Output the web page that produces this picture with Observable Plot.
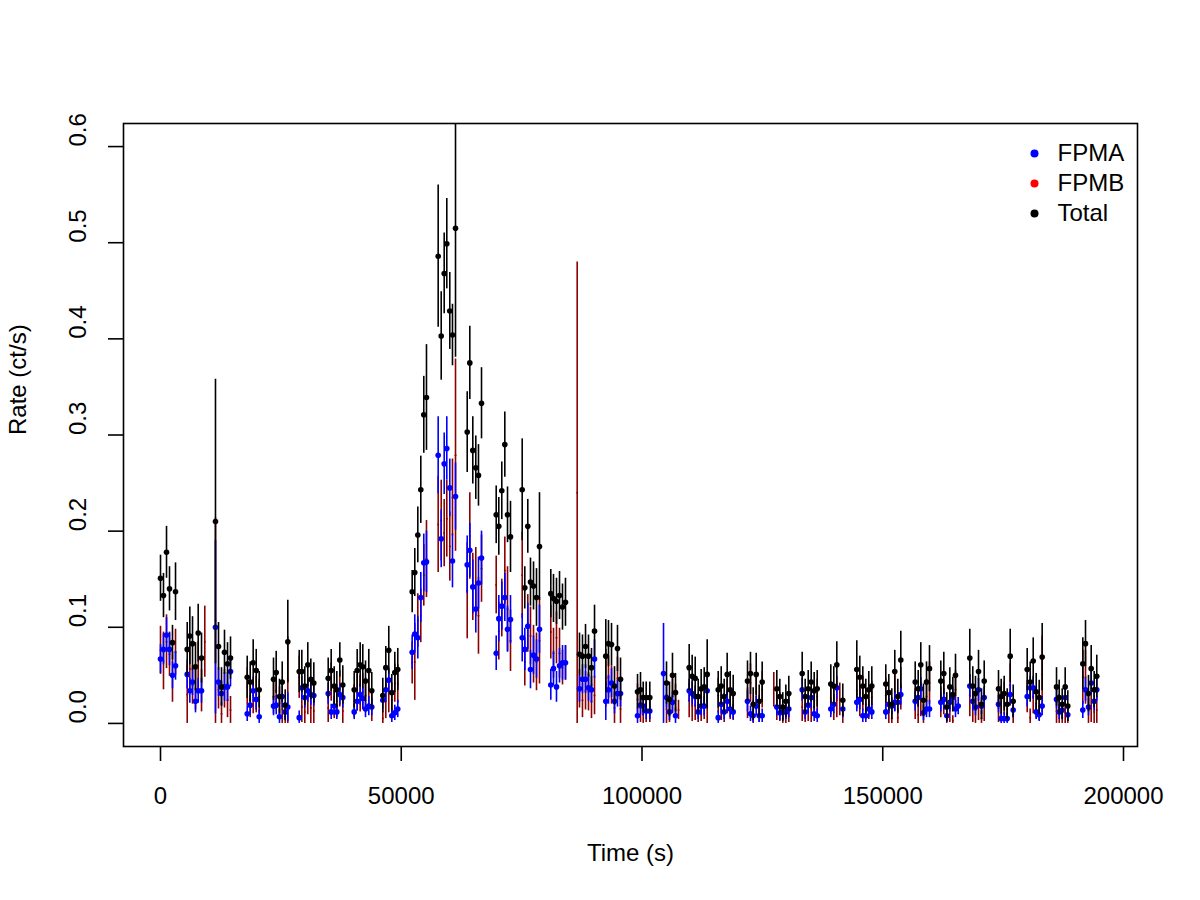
<!DOCTYPE html>
<html>
<head>
<meta charset="utf-8">
<script src="https://cdn.jsdelivr.net/npm/d3@7"></script>
<script src="https://cdn.jsdelivr.net/npm/@observablehq/plot@0.6"></script>
<style>
  html, body { margin: 0; padding: 0; background: #ffffff; }
  #chart { width: 1200px; height: 900px; }
</style>
</head>
<body>
<div id="chart"></div>
<script>
// NuSTAR light curve: binned count rates for each focal plane module and their sum.
// One line per orbit; null marks a bin where that series has no value.

const time = [
  0, 620, 1250, 1870, 2490, 3120,
  5550, 6090, 6650, 7270, 7830, 8520, 9200,
  11420, 12050, 12670, 13290, 13920, 14540,
  18010, 18630, 19250, 19880, 20500,
  23470, 24030, 24710, 25280, 25900, 26440,
  28810, 29350, 29970, 30590, 31220, 31840,
  34830, 35450, 36080, 36620, 37240, 37860,
  40230, 40850, 41470, 42010, 42580, 43260, 43880,
  46170, 46790, 47410, 48040, 48660, 49280,
  52270, 52810, 53440, 54060, 54680, 55240,
  57670, 58300, 58920, 59460, 60080, 60640, 61270,
  63700, 64240, 64860, 65480, 66040, 66670,
  69720, 70260, 70880, 71510, 72070, 72690,
  75120, 75660, 76280, 76840, 77470, 78090, 78710,
  81060, 81620, 82240, 82870, 83490, 84110, 86540,
  87020, 87640, 88270, 88890, 89510, 90140,
  92480, 93040, 93670, 94290, 94910, 95540,
  99070, 99690, 100250, 100870, 101620,
  104470, 105090, 105710, 106330, 106960, 107580,
  109800, 110420, 111050, 111670, 112290, 112920, 113540,
  115830, 116450, 117070, 117690, 118320, 118940,
  121910, 122530, 123090, 123720, 124340, 124960,
  127370, 128000, 128620, 129240, 129870, 130490,
  133270, 133890, 134520, 135140, 135760, 136390,
  139210, 139830, 140460, 141080, 141700,
  144610, 145230, 145860, 146480, 147100, 147730,
  150630, 151260, 151880, 152500, 153130, 153750,
  156740, 157360, 157900, 158460, 159090, 159710,
  162060, 162680, 163300, 163930, 164550, 165110, 165670,
  168080, 168700, 169260, 169890, 170510, 171070,
  174040, 174600, 175220, 175850, 176470, 177090,
  180000, 180620, 181250, 181870, 182490, 183110,
  186090, 186650, 187270, 187890, 188430,
  191550, 192110, 192730, 193290, 193910, 194450
];

const fpma = [
  0.067, 0.077, 0.092, 0.077, 0.050, 0.060,
  0.051, 0.034, 0.043, 0.023, 0.034, 0.034, null,
  0.100, 0.043, 0.031, 0.038, 0.038, 0.054,
  0.010, 0.019, 0.034, 0.025, 0.007,
  0.018, 0.019, 0.007, 0.028, 0.012, 0.017,
  0.006, 0.037, 0.027, 0.034, 0.030, 0.029,
  0.031, 0.012, 0.018, 0.012, 0.030, 0.027,
  0.012, 0.023, 0.030, 0.026, 0.015, 0.018, 0.017,
  0.024, 0.035, 0.045, 0.008, 0.011, 0.015,
  0.074, 0.093, 0.089, 0.131, 0.167, 0.168,
  0.279, 0.192, 0.270, 0.286, 0.245, 0.169, 0.236,
  0.165, 0.180, 0.142, 0.119, 0.146, 0.172,
  0.073, 0.109, 0.122, 0.131, 0.098, 0.108,
  0.089, 0.077, 0.101, 0.056, 0.071, 0.067, 0.098,
  0.040, 0.057, 0.038, 0.060, 0.063, 0.063, null,
  0.036, 0.046, 0.046, 0.037, 0.035, 0.067,
  0.023, 0.035, 0.042, 0.023, 0.031, 0.031,
  0.008, 0.019, 0.018, 0.013, 0.013,
  0.052, 0.027, 0.012, 0.022, 0.008, null,
  0.034, 0.031, 0.028, 0.012, 0.018, 0.018, 0.034,
  0.006, 0.020, 0.012, 0.023, 0.015, 0.012,
  0.023, 0.010, 0.008, 0.018, 0.008, 0.008,
  null, 0.017, 0.011, 0.012, 0.012, 0.015,
  0.035, 0.012, 0.019, 0.027, 0.010, 0.008,
  0.015, 0.020, 0.037, null, 0.015,
  0.022, 0.025, 0.008, 0.008, 0.015, 0.012,
  0.012, 0.020, 0.018, 0.022, 0.022, 0.030,
  0.023, 0.027, 0.036, 0.011, 0.015, 0.015,
  0.022, 0.025, 0.008, 0.022, 0.027, 0.015, 0.018,
  0.039, 0.023, 0.017, 0.035, 0.018, 0.027,
  0.020, 0.005, 0.005, 0.005, 0.030, 0.014,
  0.028, 0.037, 0.037, 0.012, 0.009, 0.018,
  0.025, 0.012, 0.014, 0.027, 0.009,
  0.014, 0.035, 0.017, 0.042, 0.023, 0.035
];

const fpmaErr = [
  0.015, 0.016, 0.018, 0.017, 0.014, 0.015,
  0.015, 0.013, 0.014, 0.012, 0.013, 0.013, null,
  0.090, 0.015, 0.013, 0.015, 0.015, 0.016,
  0.008, 0.010, 0.012, 0.011, 0.007,
  0.010, 0.010, 0.007, 0.012, 0.008, 0.015,
  0.007, 0.012, 0.011, 0.012, 0.011, 0.011,
  0.011, 0.008, 0.010, 0.008, 0.011, 0.011,
  0.008, 0.010, 0.011, 0.011, 0.009, 0.010, 0.009,
  0.010, 0.012, 0.013, 0.007, 0.008, 0.009,
  0.018, 0.020, 0.022, 0.026, 0.030, 0.032,
  0.040, 0.030, 0.032, 0.033, 0.030, 0.028, 0.035,
  0.030, 0.028, 0.028, 0.025, 0.027, 0.028,
  0.018, 0.024, 0.025, 0.025, 0.024, 0.025,
  0.025, 0.022, 0.024, 0.020, 0.020, 0.020, 0.025,
  0.016, 0.018, 0.016, 0.018, 0.018, 0.018, null,
  0.014, 0.015, 0.015, 0.014, 0.014, 0.020,
  0.020, 0.015, 0.015, 0.013, 0.014, 0.014,
  0.008, 0.010, 0.010, 0.009, 0.009,
  0.052, 0.011, 0.009, 0.011, 0.008, null,
  0.012, 0.012, 0.011, 0.008, 0.010, 0.010, 0.014,
  0.007, 0.010, 0.008, 0.011, 0.009, 0.008,
  0.011, 0.008, 0.007, 0.010, 0.007, 0.007,
  null, 0.009, 0.008, 0.008, 0.008, 0.009,
  0.012, 0.008, 0.009, 0.011, 0.008, 0.007,
  0.009, 0.010, 0.012, null, 0.009,
  0.010, 0.011, 0.007, 0.007, 0.009, 0.008,
  0.008, 0.010, 0.009, 0.010, 0.010, 0.011,
  0.010, 0.010, 0.012, 0.008, 0.009, 0.009,
  0.010, 0.011, 0.007, 0.010, 0.011, 0.009, 0.009,
  0.012, 0.010, 0.009, 0.012, 0.009, 0.011,
  0.009, 0.006, 0.006, 0.006, 0.011, 0.008,
  0.011, 0.012, 0.012, 0.008, 0.007, 0.010,
  0.010, 0.008, 0.008, 0.010, 0.007,
  0.009, 0.012, 0.009, 0.013, 0.010, 0.012
];

const fpmb = [
  0.076, 0.065, 0.085, 0.072, 0.048, 0.074,
  0.030, 0.057, 0.040, 0.036, 0.060, 0.034, 0.085,
  0.107, 0.035, 0.010, 0.036, 0.024, 0.014,
  0.038, 0.024, 0.029, 0.030, 0.028,
  0.028, 0.034, 0.021, 0.015, 0.007, 0.045,
  0.048, 0.017, 0.012, 0.027, 0.016, 0.013,
  0.016, 0.043, 0.021, 0.023, 0.036, 0.013,
  0.023, 0.032, 0.031, 0.033, 0.029, 0.037, 0.017,
  0.005, 0.023, 0.031, 0.024, 0.042, 0.041,
  0.063, 0.064, 0.107, 0.112, 0.154, 0.171,
  0.207, 0.211, 0.198, 0.213, 0.184, 0.235, 0.279,
  0.138, 0.195, 0.142, 0.147, 0.112, 0.161,
  0.144, 0.096, 0.120, 0.159, 0.119, 0.086,
  0.154, 0.064, 0.104, 0.091, 0.072, 0.064, 0.086,
  0.095, 0.073, 0.089, 0.073, 0.058, 0.063, 0.240,
  0.036, 0.024, 0.034, 0.033, 0.023, 0.029,
  0.047, 0.048, 0.040, 0.016, 0.047, 0.015,
  0.025, 0.016, 0.009, 0.014, 0.014,
  null, 0.015, 0.013, 0.028, 0.024, 0.014,
  0.024, 0.018, 0.019, 0.016, 0.018, 0.020, 0.017,
  0.029, 0.019, 0.016, 0.028, 0.020, 0.019,
  0.021, 0.042, 0.012, 0.033, 0.015, 0.035,
  0.035, 0.019, 0.017, 0.005, 0.011, 0.016,
  0.017, 0.016, 0.017, 0.016, 0.024, 0.028,
  0.026, 0.019, 0.024, 0.025, 0.009,
  0.034, 0.023, 0.031, 0.020, 0.020, 0.027,
  0.029, 0.012, 0.005, 0.032, 0.006, 0.036,
  0.020, 0.009, 0.025, 0.013, 0.028, 0.042,
  0.022, 0.027, 0.009, 0.016, 0.003, 0.035, null,
  0.029, 0.016, 0.014, 0.019, 0.005, 0.017,
  0.016, 0.023, 0.026, 0.015, 0.040, 0.009,
  0.028, 0.006, 0.028, 0.021, 0.018, 0.051,
  0.013, 0.015, 0.006, 0.011, 0.009,
  0.048, 0.048, 0.014, 0.015, 0.012, 0.014
];

const fpmbErr = [
  0.025, 0.030, 0.028, 0.023, 0.026, 0.024,
  0.030, 0.025, 0.020, 0.022, 0.025, 0.022, 0.037,
  0.107, 0.020, 0.012, 0.020, 0.018, 0.014,
  0.020, 0.018, 0.019, 0.019, 0.018,
  0.018, 0.020, 0.017, 0.016, 0.008, 0.045,
  0.022, 0.016, 0.014, 0.018, 0.016, 0.015,
  0.015, 0.020, 0.016, 0.017, 0.019, 0.014,
  0.017, 0.019, 0.019, 0.019, 0.018, 0.020, 0.015,
  0.008, 0.018, 0.020, 0.018, 0.020, 0.020,
  0.022, 0.040, 0.028, 0.028, 0.032, 0.040,
  0.050, 0.042, 0.035, 0.040, 0.036, 0.040, 0.100,
  0.050, 0.045, 0.035, 0.036, 0.040, 0.035,
  0.030, 0.030, 0.030, 0.035, 0.044, 0.032,
  0.045, 0.025, 0.030, 0.030, 0.030, 0.030, 0.045,
  0.028, 0.026, 0.027, 0.026, 0.018, 0.018, 0.240,
  0.020, 0.018, 0.020, 0.020, 0.018, 0.020,
  0.030, 0.022, 0.020, 0.016, 0.022, 0.015,
  0.016, 0.015, 0.010, 0.013, 0.013,
  null, 0.015, 0.012, 0.018, 0.017, 0.010,
  0.018, 0.016, 0.016, 0.015, 0.016, 0.016, 0.017,
  0.018, 0.016, 0.015, 0.018, 0.016, 0.016,
  0.016, 0.020, 0.012, 0.019, 0.014, 0.019,
  0.018, 0.016, 0.015, 0.007, 0.012, 0.015,
  0.015, 0.015, 0.015, 0.015, 0.017, 0.018,
  0.017, 0.016, 0.018, 0.017, 0.010,
  0.019, 0.016, 0.018, 0.016, 0.016, 0.017,
  0.018, 0.013, 0.008, 0.019, 0.009, 0.022,
  0.016, 0.011, 0.018, 0.013, 0.018, 0.022,
  0.016, 0.018, 0.010, 0.015, 0.005, 0.020, null,
  0.022, 0.015, 0.014, 0.016, 0.008, 0.015,
  0.015, 0.016, 0.017, 0.014, 0.022, 0.010,
  0.017, 0.009, 0.018, 0.016, 0.015, 0.040,
  0.014, 0.015, 0.009, 0.013, 0.010,
  0.028, 0.028, 0.014, 0.014, 0.013, 0.014
];

const total = [
  0.151, 0.133, 0.178, 0.140, 0.084, 0.137,
  0.077, 0.091, 0.083, 0.059, 0.094, 0.068, null,
  0.210, 0.080, 0.038, 0.074, 0.062, 0.068,
  0.048, 0.043, 0.063, 0.055, 0.035,
  0.046, 0.053, 0.028, 0.043, 0.019, 0.085,
  0.054, 0.054, 0.039, 0.061, 0.046, 0.042,
  0.047, 0.055, 0.039, 0.035, 0.066, 0.040,
  0.035, 0.055, 0.061, 0.059, 0.044, 0.055, 0.034,
  0.029, 0.058, 0.076, 0.032, 0.053, 0.056,
  0.137, 0.157, 0.196, 0.243, 0.321, 0.339,
  0.486, 0.403, 0.468, 0.499, 0.429, 0.404, 0.515,
  0.303, 0.375, 0.284, 0.266, 0.258, 0.333,
  0.217, 0.205, 0.242, 0.290, 0.217, 0.194,
  0.243, 0.141, 0.205, 0.147, 0.143, 0.131, 0.184,
  0.135, 0.130, 0.127, 0.133, 0.121, 0.126, null,
  0.072, 0.070, 0.080, 0.070, 0.058, 0.096,
  0.070, 0.083, 0.082, 0.039, 0.078, 0.046,
  0.033, 0.035, 0.027, 0.027, 0.027,
  null, 0.042, 0.025, 0.050, 0.032, null,
  0.058, 0.049, 0.047, 0.028, 0.036, 0.038, 0.051,
  0.035, 0.039, 0.028, 0.051, 0.035, 0.031,
  0.044, 0.052, 0.020, 0.051, 0.023, 0.043,
  null, 0.036, 0.028, 0.017, 0.023, 0.031,
  0.052, 0.028, 0.036, 0.043, 0.034, 0.036,
  0.041, 0.039, 0.061, null, 0.024,
  0.056, 0.048, 0.039, 0.028, 0.035, 0.039,
  0.041, 0.032, 0.020, 0.054, 0.028, 0.066,
  0.043, 0.036, 0.061, 0.024, 0.043, 0.057,
  0.044, 0.052, 0.017, 0.038, 0.030, 0.050, null,
  0.068, 0.039, 0.031, 0.054, 0.020, 0.044,
  0.036, 0.028, 0.031, 0.020, 0.070, 0.023,
  0.056, 0.043, 0.065, 0.033, 0.027, 0.069,
  0.038, 0.027, 0.020, 0.038, 0.018,
  0.062, 0.083, 0.031, 0.057, 0.035, 0.049
];

const totalErr = [
  0.024, 0.023, 0.027, 0.023, 0.018, 0.030,
  0.028, 0.030, 0.028, 0.025, 0.030, 0.026, null,
  0.148, 0.025, 0.020, 0.023, 0.022, 0.022,
  0.022, 0.021, 0.024, 0.022, 0.019,
  0.022, 0.022, 0.018, 0.021, 0.016, 0.043,
  0.022, 0.022, 0.020, 0.023, 0.021, 0.021,
  0.021, 0.022, 0.020, 0.019, 0.018, 0.020,
  0.019, 0.022, 0.023, 0.023, 0.021, 0.022, 0.019,
  0.018, 0.022, 0.025, 0.019, 0.021, 0.022,
  0.022, 0.025, 0.029, 0.035, 0.040, 0.055,
  0.074, 0.046, 0.042, 0.047, 0.040, 0.032, 0.134,
  0.042, 0.038, 0.035, 0.033, 0.032, 0.037,
  0.030, 0.030, 0.030, 0.034, 0.029, 0.037,
  0.053, 0.022, 0.028, 0.025, 0.025, 0.030, 0.056,
  0.025, 0.025, 0.024, 0.025, 0.024, 0.025, null,
  0.022, 0.022, 0.023, 0.022, 0.020, 0.027,
  0.038, 0.024, 0.022, 0.020, 0.024, 0.022,
  0.018, 0.018, 0.016, 0.016, 0.016,
  null, 0.022, 0.018, 0.023, 0.020, null,
  0.024, 0.022, 0.022, 0.018, 0.020, 0.020, 0.036,
  0.019, 0.020, 0.018, 0.022, 0.019, 0.019,
  0.021, 0.022, 0.017, 0.022, 0.017, 0.021,
  null, 0.019, 0.018, 0.015, 0.017, 0.018,
  0.022, 0.018, 0.019, 0.021, 0.019, 0.019,
  0.020, 0.020, 0.024, null, 0.017,
  0.030, 0.022, 0.020, 0.018, 0.019, 0.020,
  0.020, 0.019, 0.016, 0.022, 0.018, 0.030,
  0.021, 0.019, 0.023, 0.017, 0.021, 0.024,
  0.021, 0.022, 0.015, 0.020, 0.018, 0.022, null,
  0.030, 0.020, 0.018, 0.022, 0.016, 0.021,
  0.019, 0.018, 0.018, 0.016, 0.028, 0.017,
  0.022, 0.021, 0.024, 0.019, 0.018, 0.035,
  0.020, 0.018, 0.016, 0.020, 0.016,
  0.027, 0.024, 0.019, 0.024, 0.019, 0.022
];

// Axis ticks and limits (limits pad the data range by 4% on each side)
const xTicks = [0, 50000, 100000, 150000, 200000];
const yTicks = [0.0, 0.1, 0.2, 0.3, 0.4, 0.5, 0.6];
const xLimits = [-7684, 202908];
const yLimits = [-0.024, 0.624];

const legendItems = [
  {label: "FPMA", color: "#0000ff"},
  {label: "FPMB", color: "#ff0000"},
  {label: "Total", color: "#000000"}
];

const colA = "#0000ff";
const colB = "#8b0000";
const colT = "#000000";

const rows = time.map((t, i) => ({
  t,
  a: fpma[i], ae: fpmaErr[i],
  b: fpmb[i], be: fpmbErr[i],
  tot: total[i], te: totalErr[i]
}));
const withValue = (k) => rows.filter((d) => d[k] != null);

const lw = 1.6;
const fs = 24;
const dotR = 2.8;

const legendMarks = legendItems.flatMap((item, i) => [
  Plot.dot([item], {frameAnchor: "top-right", dx: -103, dy: 30 + 30 * i, r: 4, fill: item.color}),
  Plot.text([item], {frameAnchor: "top-right", dx: -80, dy: 30 + 30 * i, text: (d) => d.label, textAnchor: "start", lineAnchor: "middle", fontSize: fs})
]);

const chart = Plot.plot({
  width: 1200,
  height: 900,
  marginLeft: 123,
  marginRight: 63,
  marginTop: 123,
  marginBottom: 154,
  style: {fontFamily: "'Liberation Sans', Arial, Helvetica, sans-serif", fontSize: "24px", background: "#ffffff", color: "#000000"},
  x: {domain: xLimits},
  y: {domain: yLimits},
  marks: [
    // FPMB error bars and points
    Plot.ruleX(withValue("b"), {x: "t", y1: (d) => Math.max(0, d.b - d.be), y2: (d) => d.b + d.be, stroke: colB, strokeWidth: lw, clip: true}),
    Plot.dot(withValue("b"), {x: "t", y: "b", r: 1, fill: colB, clip: true}),
    // FPMA error bars and points
    Plot.ruleX(withValue("a"), {x: "t", y1: (d) => Math.max(0, d.a - d.ae), y2: (d) => d.a + d.ae, stroke: colA, strokeWidth: lw, clip: true}),
    Plot.dot(withValue("a"), {x: "t", y: "a", r: dotR, fill: colA, clip: true}),
    // Total error bars and points
    Plot.ruleX(withValue("tot"), {x: "t", y1: (d) => Math.max(0, d.tot - d.te), y2: (d) => d.tot + d.te, stroke: colT, strokeWidth: lw, clip: true}),
    Plot.dot(withValue("tot"), {x: "t", y: "tot", r: dotR, fill: colT, clip: true}),
    // Box and axes
    Plot.frame({stroke: "#000000", strokeWidth: lw}),
    Plot.axisX(xTicks, {tickSize: 15, tickPadding: 25, strokeWidth: lw, fontSize: fs, tickFormat: (d) => String(d), label: null}),
    Plot.axisY(yTicks, {tickSize: 15, strokeWidth: lw, tickFormat: () => "", label: null}),
    Plot.text(yTicks, {y: (d) => d, text: (d) => d.toFixed(1), frameAnchor: "left", dx: -45, rotate: -90, lineAnchor: "middle", fontSize: fs}),
    Plot.text(["Time (s)"], {frameAnchor: "bottom", dy: 107, lineAnchor: "middle", fontSize: fs}),
    Plot.text(["Rate (ct/s)"], {frameAnchor: "left", dx: -105, rotate: -90, lineAnchor: "middle", fontSize: fs}),
    ...legendMarks
  ]
});

document.getElementById("chart").appendChild(chart);
</script>
</body>
</html>
